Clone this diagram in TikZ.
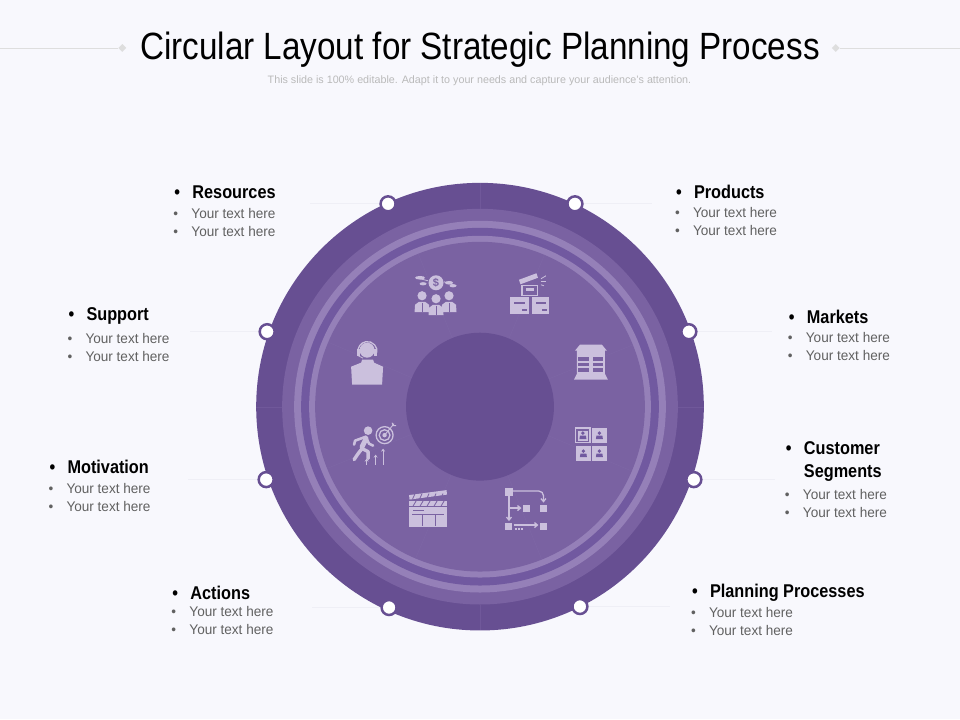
\documentclass[tikz,border=0pt]{standalone}
\usepackage{fontspec}
\setmainfont{Liberation Sans}
\newfontfamily\titlefont[FakeStretch=0.875]{Liberation Sans}
\newfontfamily\headfont[FakeStretch=0.88]{Liberation Sans Bold}
\newfontfamily\bodyfont[FakeStretch=0.97]{Liberation Sans}
\usetikzlibrary{shapes.geometric,calc,arrows.meta}
\definecolor{pagebg}{HTML}{F8F8FD}
\definecolor{rimc}{HTML}{674F92}
\definecolor{bandc}{HTML}{7A62A2}
\definecolor{gapc}{HTML}{7159A0}
\definecolor{hoopc}{HTML}{9580B8}
\definecolor{iconc}{HTML}{CBC0DD}
\definecolor{seamc}{HTML}{7E67A6}
\definecolor{rimseamc}{HTML}{70589A}
\definecolor{leadc}{HTML}{EFEFF6}
\newcommand{\bul}{\hspace*{-2pt}\makebox[18pt][l]{\textbullet}}
\tikzset{
    disc/.style={circle,inner sep=0pt,minimum size=#1},
    pin/.style={circle,fill=white,draw=rimc,line width=2.5pt,inner sep=0pt,minimum size=15pt},
    head/.style={anchor=west,inner sep=0pt,align=left,text=black,yshift=-1.5pt,font=\headfont\fontsize{18.5}{23}\selectfont},
    body/.style={anchor=west,inner sep=0pt,text=black!62,yshift=-0.5pt,font=\bodyfont\fontsize{14}{17}\selectfont},
    leader/.style={draw=leadc,line width=0.8pt},
    rule/.style={draw=black!13,line width=0.8pt},
    gem/.style={diamond,fill=black!13,inner sep=0pt,minimum size=8pt},
    icon/.style={fill=iconc,draw=none},
    iconln/.style={draw=iconc,line width=1.3pt},
    cut/.style={fill=bandc,draw=none},
    cutln/.style={draw=bandc,line width=0.8pt}
}
\begin{document}
\begin{tikzpicture}[x=1pt,y=-1pt]
    \fill[pagebg] (0,0) rectangle (960,720);
    % title
    \node[inner sep=0pt,font=\titlefont\fontsize{38}{42}\selectfont] (title) at (480,50) {Circular Layout for Strategic Planning Process};
    \node[inner sep=0pt,text=black!27,font=\fontsize{10.75}{12}\selectfont] (subtitle) at (479.5,80.5) {This slide is 100\% editable. Adapt it to your needs and capture your audience's attention.};
    \node[gem] (gemL) at (122,48) {};
    \node[gem] (gemR) at (836,48) {};
    \coordinate (ruleL) at (0,48);
    \coordinate (ruleR) at (960,48);
    \draw[rule] (ruleL) -- (gemL);
    \draw[rule] (gemR) -- (ruleR);
    % wheel
    \node[disc=448pt,fill=rimc] (rim) at (480,407) {};
    \node[disc=396pt,fill=bandc] (band) at (480,407) {};
    \node[disc=372pt,fill=hoopc] (hoopA) at (480,407) {};
    \node[disc=358pt,fill=gapc] (gap) at (480,407) {};
    \node[disc=342pt,fill=hoopc] (hoopB) at (480,407) {};
    \node[disc=330pt,fill=bandc] (field) at (480,407) {};
    \foreach \a in {0,90,180,270}
        \draw[rimseamc,line width=0.3pt] ($(rim.center)+(\a:198pt)$) -- ($(rim.center)+(\a:224pt)$);
    \foreach \a in {22,67,112,157,202,247,292,337}
        \draw[seamc,line width=0.4pt] ($(rim.center)+(\a:74pt)$) -- ($(rim.center)+(\a:165pt)$);
    \node[disc=148pt,fill=rimc] (hub) at (480,407) {};
    % pins and leaders
    \foreach \n/\x/\y/\e in {pinRes/388/204/310,pinPro/575/204/652,pinMar/689/332/772,pinCus/694/480/775,pinPla/580/607/670,pinAct/389/608/312,pinMot/266/480/188,pinSup/267/332/190}{
        \coordinate (\n end) at (\e,\y);
        \draw[leader] (\x,\y) -- (\n end);
        \node[pin] (\n) at (\x,\y) {};
    }
    % labels
    \node[head] (res) at (176,191) {\bul Resources};
    \node[body] (resA) at (175,213) {\bul Your text here};
    \node[body] (resB) at (175,231) {\bul Your text here};
    \node[head] (pro) at (678,191) {\bul Products};
    \node[body] (proA) at (677,212) {\bul Your text here};
    \node[body] (proB) at (677,230) {\bul Your text here};
    \node[head] (sup) at (70,315) {\bul Support};
    \node[body] (supA) at (69,338) {\bul Your text here};
    \node[body] (supB) at (69,356) {\bul Your text here};
    \node[head] (mar) at (791,316) {\bul Markets};
    \node[body] (marA) at (790,337) {\bul Your text here};
    \node[body] (marB) at (790,355) {\bul Your text here};
    \node[head] (mot) at (51,466) {\bul Motivation};
    \node[body] (motA) at (50,488) {\bul Your text here};
    \node[body] (motB) at (50,506) {\bul Your text here};
    \node[head] (cus) at (788,460) {\bul Customer\\\hspace*{16pt}Segments};
    \node[body] (cusA) at (787,494) {\bul Your text here};
    \node[body] (cusB) at (787,512) {\bul Your text here};
    \node[head] (act) at (174,592) {\bul Actions};
    \node[body] (actA) at (173,612) {\bul Your text here};
    \node[body] (actB) at (173,630) {\bul Your text here};
    \node[head] (pla) at (694,592) {\bul Planning Processes};
    \node[body] (plaA) at (693,613) {\bul Your text here};
    \node[body] (plaB) at (693,631) {\bul Your text here};
    % money team icon
    \fill[icon] (436,283) circle (7.5pt);
    \node[inner sep=0pt,text=bandc,font=\bfseries\fontsize{11}{11}\selectfont] (dollar) at (436,283) {\$};
    \fill[icon] (420,278) ellipse (5pt and 1.8pt);
    \fill[icon] (423,284) ellipse (3.5pt and 1.6pt);
    \fill[icon] (449,283) ellipse (4pt and 1.8pt);
    \fill[icon] (453,286) ellipse (3.5pt and 1.6pt);
    \draw[iconln,line width=0.8pt] (416,278) -- (428,281);
    \draw[iconln,line width=0.8pt] (444,282) -- (456,286);
    \foreach \x/\y in {422/296,449/296,436/299}{
        \fill[icon] (\x,\y) circle (4.6pt);
        \fill[icon] (\x-7.5,\y+16.5) -- (\x-7,\y+9) -- (\x-3,\y+6) -- (\x+3,\y+6) -- (\x+7,\y+9) -- (\x+7.5,\y+16.5) -- cycle;
        \draw[cutln] (\x,\y+7) -- (\x,\y+16);
    }
    % boxes icon
    \fill[icon] (510,297) rectangle (529,314);
    \fill[icon] (532,297) rectangle (549,314);
    \fill[cut] (514,302) rectangle (525,304);
    \fill[cut] (536,302) rectangle (546,304);
    \fill[cut] (522,309) rectangle (527,311);
    \fill[cut] (542,309) rectangle (547,311);
    \draw[iconln] (522,285.5) rectangle (537.5,295.5);
    \fill[icon] (526,288) rectangle (534,291);
    \fill[icon] (519,280) -- (536.5,273.5) -- (538,278) -- (520.5,284.5) -- cycle;
    \draw[iconln,line width=0.8pt] (541,279) -- (546,276);
    \draw[iconln,line width=0.8pt] (541,282) -- (546,282);
    \draw[iconln,line width=0.8pt] (541,285) -- (544,286);
    % building icon
    \fill[icon] (580,345) -- (602,345) -- (607,351) -- (605,351) -- (605,374) -- (608,380) -- (574,380) -- (577,374) -- (577,351) -- (575,351) -- cycle;
    \foreach \y in {357,363,368.5}{
        \fill[cut] (578.5,\y) rectangle (589,\y+3.8);
        \fill[cut] (593,\y) rectangle (603.5,\y+3.8);
    }
    % customer grid icon
    \draw[iconln] (575.5,428.5) rectangle (590,443);
    \fill[icon] (578,431) rectangle (588,441);
    \fill[icon] (592,428) rectangle (607,443);
    \fill[icon] (576,446) rectangle (591,461);
    \fill[icon] (592,446) rectangle (607,461);
    \foreach \x/\y in {583/435.5,599.5/435.5,583.5/453.5,599.5/453.5}{
        \fill[gapc] (\x,\y-2) circle (1.9pt);
        \fill[gapc] (\x-3.5,\y+4) -- (\x-3,\y+0.5) -- (\x+3,\y+0.5) -- (\x+3.5,\y+4) -- cycle;
    }
    % flow icon
    \fill[icon] (505.5,488) rectangle (513,496);
    \fill[icon] (540,505) rectangle (547,512);
    \fill[icon] (523,505) rectangle (530,512);
    \fill[icon] (505,523) rectangle (512,530);
    \fill[icon] (540,523) rectangle (547,530);
    \draw[iconln,-{Straight Barb[length=3pt,width=5pt]}] (513,491.5) -- (539,491.5) to[out=0,in=90] (543.5,496) -- (543.5,503);
    \draw[iconln,-{Straight Barb[length=3pt,width=5pt]}] (509,496) -- (509,521.5);
    \draw[iconln,-{Straight Barb[length=3pt,width=5pt]}] (509,508.5) -- (521.5,508.5);
    \draw[iconln,-{Straight Barb[length=3pt,width=5pt]}] (514,525.5) -- (538.5,525.5);
    \draw[iconln,dash pattern=on 1.6pt off 1.4pt] (515,529.5) -- (523,529.5);
    % clapper icon
    \fill[icon] (409,507.5) rectangle (447,527);
    \fill[icon] (409,501.5) rectangle (447,506.5);
    \fill[icon] (409,495.5) -- (446.5,490.5) -- (447,495) -- (409.5,500) -- cycle;
    \foreach \x in {413,420,...,445}{
        \draw[cutln] (\x,506.5) -- (\x+3,501.5);
        \draw[cutln] (\x-0.5,499.5) -- (\x+2,494);
    }
    \draw[cutln] (412,515) -- (444,515);
    \draw[cutln] (422,515) -- (422,526);
    \draw[cutln] (435,515) -- (435,526);
    \draw[cutln] (413,510.5) -- (424,510.5);
    % runner and target icon
    \fill[icon] (368,431) circle (4.3pt);
    \draw[iconln,line width=5pt,line cap=round,line join=round] (366,439) -- (362,447);
    \draw[iconln,line width=2.6pt,line cap=round,line join=round] (366,437) -- (355,441) -- (354,445);
    \draw[iconln,line width=2.6pt,line cap=round,line join=round] (366,438) -- (369,444) -- (373,446);
    \draw[iconln,line width=3.4pt,line cap=round,line join=round] (362,449) -- (358,454) -- (354,460);
    \draw[iconln,line width=3.4pt,line cap=round,line join=round] (362,449) -- (368,452) -- (368,459);
    \draw[iconln] (384.5,435.5) circle (8.5pt);
    \draw[iconln] (384.5,435.5) circle (5.4pt);
    \fill[icon] (384.5,435.5) circle (2.2pt);
    \draw[iconln,line width=0.9pt] (384.5,435.5) -- (394,424);
    \draw[iconln,line width=0.9pt] (392,423) -- (393,426) -- (396,426);
    \foreach \x/\y in {366.5/459,375.5/455,383/449}
        \draw[iconln,line width=1pt,-{Stealth[length=3pt,width=4pt]}] (\x,465) -- (\x,\y);
    % headset person icon
    \fill[icon] (362,360) -- (373,360) -- (374,363) -- (383,367) -- (382,385) -- (352,385) -- (351,367) -- (361,363) -- cycle;
    \fill[icon] (367,350.5) circle (7.5pt);
    \draw[iconln] (358,353) arc[start angle=190,end angle=-10,radius=9.5pt];
    \fill[icon] (357,349.5) rectangle (360,356);
    \fill[icon] (374,349.5) rectangle (377,356);
    \draw[iconln,line width=0.8pt] (358,356) -- (363,358.5);
\end{tikzpicture}
\end{document}
